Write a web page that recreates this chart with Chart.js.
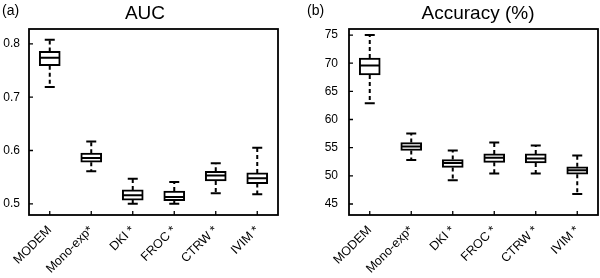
<!DOCTYPE html>
<html>
<head>
<meta charset="utf-8">
<script src="https://cdn.jsdelivr.net/npm/chart.js"></script>
<style>
  body { margin: 0; background: #fff; }
  #wrap { position: relative; width: 600px; height: 278px; }
  canvas { position: absolute; top: 0; }
  #auc { left: 0; }
  #acc { left: 300px; }
</style>
</head>
<body>
<div id="wrap">
  <canvas id="auc" width="300" height="278"></canvas>
  <canvas id="acc" width="300" height="278"></canvas>
</div>
<script>
const labels = ["MODEM", "Mono-exp*", "DKI *", "FROC *", "CTRW *", "IVIM *"];

// AUC box stats
const aucMin = [0.719, 0.561, 0.500, 0.500, 0.520, 0.518];
const aucQ1  = [0.759, 0.578, 0.507, 0.506, 0.543, 0.538];
const aucMed = [0.774, 0.586, 0.516, 0.513, 0.553, 0.548];
const aucQ3  = [0.786, 0.595, 0.526, 0.524, 0.561, 0.558];
const aucMax = [0.808, 0.617, 0.547, 0.541, 0.576, 0.605];
const aucTicks = [0.5, 0.6, 0.7, 0.8];

// Accuracy (%) box stats
const accMin = [62.9, 52.8, 49.2, 50.4, 50.4, 46.8];
const accQ1  = [67.9, 54.5, 51.5, 52.4, 52.3, 50.3];
const accMed = [69.6, 55.2, 52.3, 53.2, 53.1, 51.0];
const accQ3  = [70.9, 55.9, 52.9, 53.9, 53.9, 51.6];
const accMax = [75.0, 57.5, 54.5, 55.9, 55.4, 53.6];
const accTicks = [45, 50, 55, 60, 65, 70, 75];

const FONT = "'Liberation Sans', Arial, sans-serif";

// whiskers, caps, medians + frame and inward ticks
const boxPlugin = {
  id: "boxStats",
  afterDatasetsDraw(chart, args, opts) {
    const ctx = chart.ctx;
    const x = chart.scales.x, y = chart.scales.y;
    ctx.save();
    ctx.strokeStyle = "#000";
    for (let i = 0; i < opts.med.length; i++) {
      let cx = x.getPixelForValue(i);
      // dashed whiskers
      ctx.lineWidth = 2;
      ctx.setLineDash([4, 3]);
      ctx.beginPath();
      ctx.moveTo(cx, y.getPixelForValue(opts.q3[i]));
      ctx.lineTo(cx, y.getPixelForValue(opts.max[i]));
      ctx.moveTo(cx, y.getPixelForValue(opts.q1[i]));
      ctx.lineTo(cx, y.getPixelForValue(opts.min[i]));
      ctx.stroke();
      ctx.setLineDash([]);
      // caps
      ctx.lineWidth = 2;
      ctx.beginPath();
      let top = y.getPixelForValue(opts.max[i]);
      let bot = y.getPixelForValue(opts.min[i]);
      ctx.moveTo(cx - 5, top); ctx.lineTo(cx + 5, top);
      ctx.moveTo(cx - 5, bot); ctx.lineTo(cx + 5, bot);
      // median
      let m = y.getPixelForValue(opts.med[i]);
      ctx.moveTo(cx - 10, m); ctx.lineTo(cx + 10, m);
      ctx.stroke();
    }
    ctx.restore();
  },
  afterDraw(chart, args, opts) {
    const ctx = chart.ctx;
    const a = chart.chartArea;
    const x = chart.scales.x, y = chart.scales.y;
    ctx.save();
    ctx.strokeStyle = "#000";
    ctx.lineWidth = 1.8;
    ctx.strokeRect(a.left, a.top, a.right - a.left, a.bottom - a.top);
    ctx.lineWidth = 1.3;
    ctx.beginPath();
    y.ticks.forEach(t => {
      let py = y.getPixelForValue(t.value);
      ctx.moveTo(a.left, py); ctx.lineTo(a.left + 4, py);
    });
    for (let i = 0; i < labels.length; i++) {
      let px = x.getPixelForValue(i);
      ctx.moveTo(px, a.bottom); ctx.lineTo(px, a.bottom - 4);
    }
    ctx.stroke();
    // titles
    ctx.fillStyle = "#000";
    ctx.textAlign = "center";
    ctx.font = "19px " + FONT;
    ctx.fillText(opts.title, opts.titleX, 19);
    ctx.textAlign = "left";
    ctx.font = "14px " + FONT;
    ctx.fillText(opts.tag, opts.tagX, 15);
    ctx.restore();
  }
};

function makeChart(id, q1, q3, stats, ticks, yMin, yMax, yWidth, tickPad, padRight) {
  return new Chart(document.getElementById(id), {
    type: "bar",
    plugins: [boxPlugin],
    data: {
      labels: labels,
      datasets: [{
        data: q1.map((v, i) => [v, q3[i]]),
        backgroundColor: "#fff",
        borderColor: "#000",
        borderWidth: 2,
        borderSkipped: false,
        barThickness: 21
      }]
    },
    options: {
      responsive: false,
      animation: false,
      layout: { padding: { top: 29, right: padRight, left: 0, bottom: 0 } },
      plugins: {
        legend: { display: false },
        tooltip: { enabled: false },
        boxStats: stats
      },
      scales: {
        x: {
          grid: { display: false, drawTicks: false },
          border: { display: false },
          afterFit(scale) { scale.height = 63; },
          ticks: {
            minRotation: 45, maxRotation: 45, padding: 8,
            color: "#000", font: { family: FONT, size: 12.5 }
          }
        },
        y: {
          min: yMin, max: yMax,
          grid: { display: false, drawTicks: false },
          border: { display: false },
          afterFit(scale) { scale.width = yWidth; },
          afterBuildTicks(scale) { scale.ticks = ticks.map(v => ({ value: v })); },
          ticks: {
            padding: tickPad,
            color: "#000", font: { family: FONT, size: 12 }
          }
        }
      }
    }
  });
}

makeChart("auc", aucQ1, aucQ3,
  { min: aucMin, q1: aucQ1, med: aucMed, q3: aucQ3, max: aucMax, title: "AUC", titleX: 145, tag: "(a)", tagX: 2 },
  aucTicks, 0.479, 0.828, 29, 9, 22);

makeChart("acc", accQ1, accQ3,
  { min: accMin, q1: accQ1, med: accMed, q3: accQ3, max: accMax, title: "Accuracy (%)", titleX: 178, tag: "(b)", tagX: 7 },
  accTicks, 43.05, 76.07, 49, 11, 2);
</script>
</body>
</html>
